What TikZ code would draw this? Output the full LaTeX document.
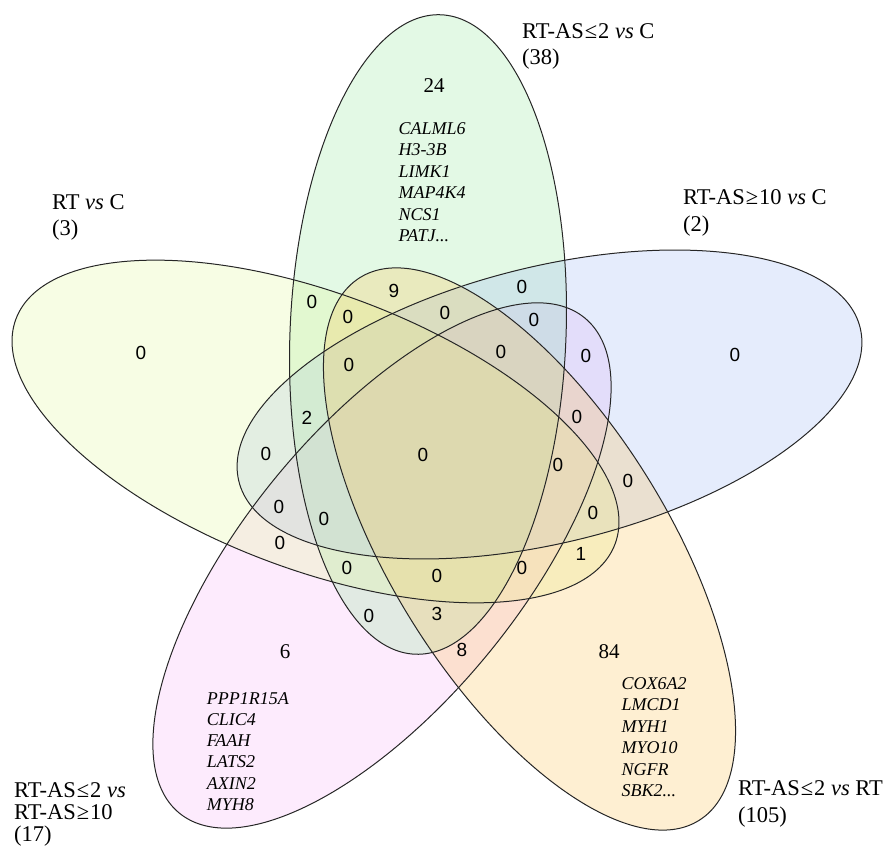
\documentclass[tikz,border=0pt]{standalone}
\usepackage{fontspec}
\setmainfont{Liberation Serif}
\newfontfamily\numfont{Liberation Sans}
\definecolor{cyellow}{RGB}{223,247,147}
\definecolor{cgreen}{RGB}{143,231,151}
\definecolor{cblue}{RGB}{151,179,243}
\definecolor{cpink}{RGB}{247,175,247}
\definecolor{corange}{RGB}{251,191,75}
\newcommand\tdots{...}
\newcommand\myleq{\kern1pt≤\kern1pt}
\newcommand\mygeq{\kern1pt≥\kern1pt}
\begin{document}
\begin{tikzpicture}[x=1pt,y=1pt,
  vennfill/.style={fill opacity=0.25},
  vennline/.style={draw=black!85, line width=1pt},
  cnt/.style={font=\numfont\fontsize{19}{19}\selectfont, inner sep=0pt},
  big/.style={font=\fontsize{21}{21}\selectfont, inner sep=0pt},
  lab/.style={font=\fontsize{22.5}{22.5}\selectfont, anchor=base west, inner sep=0pt},
  gene/.style={font=\itshape\fontsize{18}{18}\selectfont, anchor=base west, inner sep=0pt}]
\useasboundingbox (0,0) rectangle (892,848);
% ellipses: centre x / centre y / axis angle / colour
\foreach \cx/\cy/\ta/\col in {382/282.5/230.7/cpink, 428/513.5/87.7/cgreen,
    549.5/443.5/13.9/cblue, 315.5/416.5/159.4/cyellow, 529.5/299/302/corange}{
  \fill[vennfill, \col, rotate around={\ta:(\cx,\cy)}] (\cx,\cy) ellipse (320 and 138);
}
\foreach \cx/\cy/\ta in {382/282.5/230.7, 428/513.5/87.7,
    549.5/443.5/13.9, 315.5/416.5/159.4, 529.5/299/302}{
  \draw[vennline, rotate around={\ta:(\cx,\cy)}] (\cx,\cy) ellipse (320 and 138);
}
% region counts (sans)
\foreach \x/\y/\t [count=\i] in {
  312/546/0, 394/557/9, 522/561/0, 348/531/0, 445/535/0, 534/528/0,
  501/496/0, 586/492/0, 349/483/0, 307/430/2, 577/431/0, 266/394/0,
  423/393/0, 558/383/0, 628/367/0, 279/341/0, 324/329/0, 593/335/0,
  280/305/0, 581/294/1, 347/280/0, 437/272/0, 522/280/0, 369/232/0,
  437/234/3, 462/198/8, 141/495/0, 735/493/0}{
  \node[cnt] (n\i) at (\x,\y) {\t};
}
% unique counts (serif)
\node[big] (u24) at (434,762) {24};
\node[big] (u6) at (285,196) {6};
\node[big] (u84) at (609,196) {84};
% gene lists
\foreach \g [count=\i from 0] in {CALML6,H3-3B,LIMK1,MAP4K4,NCS1,PATJ\tdots}{
  \node[gene] (ga\i) at (398.4,{713.7-21.5*\i}) {\g};
}
\foreach \g [count=\i from 0] in {PPP1R15A,CLIC4,FAAH,LATS2,AXIN2,MYH8}{
  \node[gene] (gb\i) at (206.6,{143.7-21.2*\i}) {\g};
}
\foreach \g [count=\i from 0] in {COX6A2,LMCD1,MYH1,MYO10,NGFR,SBK2\tdots}{
  \node[gene] (gc\i) at (621.5,{158.7-21.5*\i}) {\g};
}
% set labels
\node[lab] (l1a) at (522,809.4) {RT-AS\myleq 2 \textit{vs} C};
\node[lab] (l1b) at (522,783.6) {(38)};
\node[lab] (l2a) at (52,638.5) {RT \textit{vs} C};
\node[lab] (l2b) at (52,612) {(3)};
\node[lab] (l3a) at (683,643.5) {RT-AS\mygeq 10 \textit{vs} C};
\node[lab] (l3b) at (683,616.5) {(2)};
\node[lab] (l4a) at (738,52.3) {RT-AS\myleq 2 \textit{vs} RT};
\node[lab] (l4b) at (738,25.4) {(105)};
\node[lab] (l5a) at (14,50) {RT-AS\myleq 2 \textit{vs}};
\node[lab] (l5b) at (14,28) {RT-AS\mygeq 10};
\node[lab] (l5c) at (14,6.6) {(17)};
\end{tikzpicture}
\end{document}
